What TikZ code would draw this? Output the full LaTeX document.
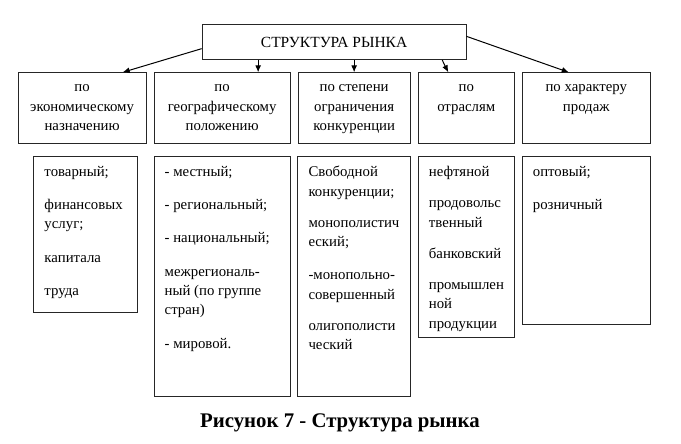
\documentclass[tikz,border=0pt]{standalone}
\usepackage{fontspec}
\setmainfont{Liberation Serif}
\usetikzlibrary{arrows.meta}
\tikzset{>={Latex[length=7pt,width=6pt]},%
  box/.style={draw=black!85,line width=0.8pt,anchor=north west,inner sep=0pt},%
  cattext/.style={anchor=north,align=center,inner sep=0pt,
    font=\fontsize{14.8}{19.3}\selectfont},%
  subtext/.style={anchor=north west,align=left,inner sep=0pt,
    font=\fontsize{14.8}{19.3}\selectfont},%
  link/.style={->,line width=1pt}}

\begin{document}
\begin{tikzpicture}[x=1pt,y=-1pt]
    \useasboundingbox (0,0) rectangle (681,444);
    % top box
    \node[box,minimum width=264pt,minimum height=35.3pt] (top) at (201.7,24) {};
    \node[font=\fontsize{15.5}{18}\selectfont] (title) at (top.center) {СТРУКТУРА РЫНКА};
    % categories
    \node[box,minimum width=128pt,minimum height=71.2pt] (c1) at (17.7,72.3) {};
    \node[box,minimum width=135.5pt,minimum height=71.2pt] (c2) at (154,72.3) {};
    \node[box,minimum width=112.5pt,minimum height=71.2pt] (c3) at (297.5,72.3) {};
    \node[box,minimum width=96.3pt,minimum height=71.2pt] (c4) at (417.7,72.3) {};
    \node[box,minimum width=128.3pt,minimum height=71.2pt] (c5) at (521.7,72.3) {};
    \node[cattext] (t1) at ([yshift=-12.5pt]c1.north) {по\\экономическому\\назначению};
    \node[cattext] (t2) at ([yshift=-12.5pt]c2.north) {по\\географическому\\положению};
    \node[cattext] (t3) at ([yshift=-12.5pt]c3.north) {по степени\\ограничения\\конкуренции};
    \node[cattext] (t4) at ([yshift=-12.5pt]c4.north) {по\\отраслям};
    \node[cattext] (t5) at ([yshift=-12.5pt]c5.north) {по характеру\\продаж};
    % arrows
    \draw[link] ([yshift=-6.6pt]top.west) -- ([xshift=40.6pt]c1.north);
    \draw[link] ([xshift=36pt]c2.north |- top.south) -- ([xshift=36pt]c2.north);
    \draw[link] (c3.north |- top.south) -- (c3.north);
    \draw[link] ([xshift=-24pt]c4.north |- top.south) -- ([xshift=-18pt]c4.north);
    \draw[link] ([yshift=5.7pt]top.east) -- ([xshift=-17.5pt]c5.north);
    % lists
    \node[box,minimum width=104pt,minimum height=156.3pt] (s1) at (33.3,156) {};
    \node[box,minimum width=136.5pt,minimum height=240pt] (s2) at (153.5,156) {};
    \node[box,minimum width=112.7pt,minimum height=240pt] (s3) at (297.3,156) {};
    \node[box,minimum width=96.3pt,minimum height=180.5pt] (s4) at (417.7,156) {};
    \node[box,minimum width=128.3pt,minimum height=168pt] (s5) at (521.7,156) {};
    \node[subtext] (l1) at ([xshift=11pt,yshift=-10pt]s1.north west)
      {товарный;\\[14pt]финансовых\\услуг;\\[14pt]капитала\\[14pt]труда};
    \node[subtext] (l2) at ([xshift=11pt,yshift=-10pt]s2.north west)
      {- местный;\\[14pt]- региональный;\\[14pt]- национальный;\\[14pt]межрегиональ-\\ный (по группе\\стран)\\[14pt]- мировой.};
    \node[subtext] (l3) at ([xshift=11pt,yshift=-10pt]s3.north west)
      {Свободной\\конкуренции;\\[12pt]монополистич\\еский;\\[14pt]-монопольно-\\совершенный\\[12pt]олигополисти\\ческий};
    \node[subtext] (l4) at ([xshift=11pt,yshift=-10pt]s4.north west)
      {нефтяной\\[12pt]продовольс\\твенный\\[12pt]банковский\\[12pt]промышлен\\ной\\продукции};
    \node[subtext] (l5) at ([xshift=11pt,yshift=-10pt]s5.north west)
      {оптовый;\\[14pt]розничный};
    % caption
    \node[font=\fontsize{20.8}{24}\selectfont\bfseries] (caption) at (340,423) {Рисунок 7 - Структура рынка};
\end{tikzpicture}
\end{document}
